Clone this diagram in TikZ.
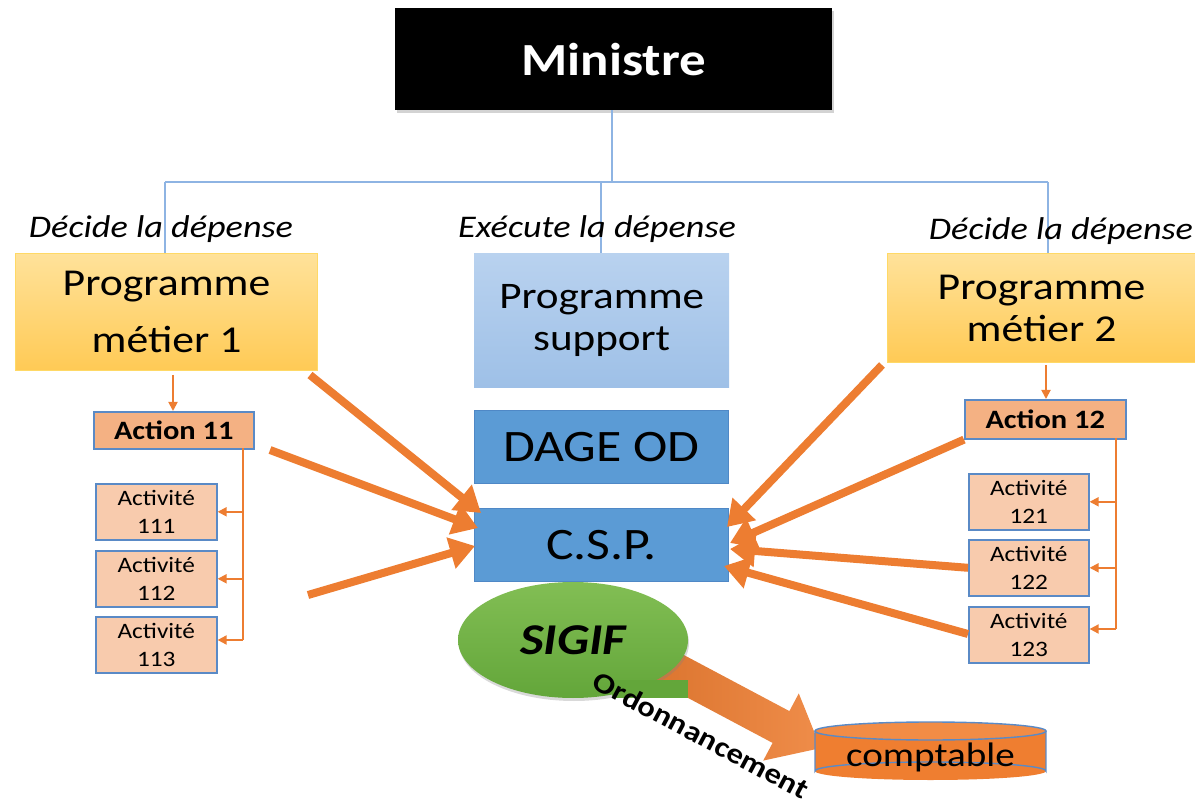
\documentclass[tikz,border=0pt]{standalone}
\usepackage{fontspec}
\setmainfont{Carlito}[FakeStretch=1.15]
\usetikzlibrary{arrows.meta,shadows,calc,shapes.geometric}

\definecolor{orgline}{HTML}{8EB4E3}
\definecolor{pmtop}{HTML}{FFE29A}
\definecolor{pmbot}{HTML}{FFCA55}
\definecolor{pmedge}{HTML}{FFD966}
\definecolor{suptop}{HTML}{B9D2EF}
\definecolor{supbot}{HTML}{9EC0E7}
\definecolor{midblue}{HTML}{5B9BD5}
\definecolor{midedge}{HTML}{4F88C6}
\definecolor{actfill}{HTML}{F4B183}
\definecolor{subfill}{HTML}{F8CBAD}
\definecolor{boxedge}{HTML}{5A8AC6}
\definecolor{flow}{HTML}{ED7D31}
\definecolor{gtop}{HTML}{82BE54}
\definecolor{gbot}{HTML}{63A63A}
\definecolor{cyl}{HTML}{EF7E30}
\definecolor{cyltop}{HTML}{F28C45}

\tikzset{
  tl/.style={anchor=north west, inner sep=0pt, align=center},
  ministrebox/.style={tl, fill=black, text=white,
    font=\fontsize{46}{50}\selectfont\bfseries,
    drop shadow={opacity=0.35, shadow xshift=2pt, shadow yshift=-3pt}},
  progbox/.style={tl, top color=pmtop, bottom color=pmbot, draw=pmedge, line width=1pt},
  supbox/.style={tl, top color=suptop, bottom color=supbot},
  midbox/.style={tl, fill=midblue, draw=midedge, line width=0.8pt},
  actbox/.style={tl, fill=actfill, draw=boxedge, line width=1.6pt,
    font=\fontsize{26.5}{26.5}\selectfont\bfseries},
  subbox/.style={tl, fill=subfill, draw=boxedge, line width=1.6pt,
    font=\fontsize{22}{28}\selectfont},
  lbl/.style={font=\fontsize{31.5}{31.5}\selectfont\itshape, inner sep=0pt},
  org/.style={draw=orgline, line width=1.8pt},
  thin/.style={draw=flow, line width=1.8pt, -{Triangle[length=9pt,width=9pt]}},
  thinline/.style={draw=flow, line width=1.8pt},
  bigarrow/.style={draw=flow, line width=8pt, -{Triangle[length=25pt,width=31pt]}},
}

\begin{document}
\begin{tikzpicture}[x=1pt, y=-1pt]
\useasboundingbox (0,0) rectangle (1195,802);

% ---- top of the hierarchy ----
\node[ministrebox, minimum width=437pt, minimum height=102pt] (min) at (395,8) {Ministre};

\coordinate (hub) at (612,182);
\coordinate (jl) at (165,182);
\coordinate (jm) at (601,182);
\coordinate (jr) at (1048,182);

% ---- programmes ----
\node[progbox, minimum width=302pt, minimum height=117pt,
      font=\fontsize{38}{57}\selectfont] (pm1) at (15,253) {Programme\\métier 1};
\node[supbox, minimum width=255pt, minimum height=134pt,
      font=\fontsize{37.5}{42}\selectfont] (sup) at (474,253) {Programme\\support};
\node[progbox, minimum width=308pt, minimum height=109pt,
      font=\fontsize{38}{42}\selectfont] (pm2) at (887,253) {Programme\\métier 2};

\draw[org] (min.south -| hub) -- (hub);
\draw[org] (jl) -- (jr);
\draw[org] (jl) -- (jl |- pm1.north);
\draw[org] (jm) -- (jm |- sup.north);
\draw[org] (jr) -- (jr |- pm2.north);

\node[lbl] (l1) at (161,229) {Décide la dépense};
\node[lbl] (l2) at (597,229) {Exécute la dépense};
\node[lbl] (l3) at (1061,231) {Décide la dépense};

% ---- central services ----
\node[midbox, minimum width=254pt, minimum height=73pt,
      font=\fontsize{45}{45}\selectfont] (dage) at (474,410) {DAGE OD};
\node[midbox, minimum width=254pt, minimum height=73pt,
      font=\fontsize{45}{45}\selectfont] (csp) at (474,508) {C.S.P.};

% ---- left branch ----
\node[actbox, minimum width=160pt, minimum height=37pt] (a11) at (93,411) {Action 11};
\node[subbox, minimum width=121pt, minimum height=56pt] (s111) at (95,483) {Activité\\111};
\node[subbox, minimum width=121pt, minimum height=56pt] (s112) at (95,550) {Activité\\112};
\node[subbox, minimum width=121pt, minimum height=56pt] (s113) at (95,616) {Activité\\113};

\coordinate (pm1out) at (173,375);
\draw[thin] (pm1out) -- (pm1out |- a11.north);
\coordinate (vl) at (243,448);
\coordinate (vlb) at (243,640);
\draw[thinline] (vl) -- (vlb);
\draw[thin] (vlb) -- (s113.east |- vlb);
\draw[thin] (vl |- s111.east) -- (s111.east);
\draw[thin] (vl |- s112.east) -- (s112.east);

% ---- right branch ----
\node[actbox, minimum width=161pt, minimum height=39pt] (a12) at (964,399) {Action 12};
\node[subbox, minimum width=120pt, minimum height=56pt] (s121) at (968,473) {Activité\\121};
\node[subbox, minimum width=120pt, minimum height=56pt] (s122) at (968,539) {Activité\\122};
\node[subbox, minimum width=120pt, minimum height=56pt] (s123) at (968,606) {Activité\\123};

\coordinate (pm2out) at (1046,365);
\draw[thin] (pm2out) -- (pm2out |- a12.north);
\coordinate (vr) at (1116,438);
\coordinate (vrb) at (1116,629);
\draw[thinline] (vr) -- (vrb);
\draw[thin] (vrb) -- (s123.east |- vrb);
\draw[thin] (vr |- s121.east) -- (s121.east);
\draw[thin] (vr |- s122.east) -- (s122.east);

% ---- flows into C.S.P. ----
\coordinate (f1) at (310,375);
\coordinate (f2) at (270,450);
\coordinate (f3) at (308,595);
\coordinate (f4) at (882,365);
\coordinate (f7) at (968,634);
\coordinate (c1) at (481,513);
\coordinate (c2) at (478,528);
\coordinate (c3) at (475,546);
\coordinate (c4) at (727,527);
\coordinate (c5) at (730,543);
\coordinate (c6) at (730,549);
\coordinate (c7) at (724,566);
\draw[bigarrow] (f1) -- (c1);
\draw[bigarrow] (f2) -- (c2);
\draw[bigarrow] (f3) -- (c3);
\draw[bigarrow] (f4) -- (c4);
\draw[bigarrow] (a12.south west) -- (c5);
\draw[bigarrow] (s122.west) -- (c6);
\draw[bigarrow] (f7) -- (c7);

% ---- payment flow: block arrow from SIGIF to the accountant ----
\shade[left color=flow!92!black, right color=flow!88!white]
  (656.9,640.7) -- (789.4,711.1) -- (798.8,693.4) -- (820.7,748.1)
  -- (763.2,760.6) -- (772.6,742.9) -- (640.1,672.5) -- cycle;

\node[ellipse, minimum width=230pt, minimum height=116pt, inner sep=0pt,
      top color=gtop, bottom color=gbot,
      drop shadow={opacity=0.3, shadow xshift=1pt, shadow yshift=-3pt},
      font=\fontsize{44}{44}\selectfont\bfseries\itshape] (sigif) at (573,640) {SIGIF};
\fill[gbot] (612,680) rectangle (688,698);

% storage cylinder
\fill[cyl] (815,731) rectangle (1046,771);
\fill[cyl] (930.5,771) ellipse [x radius=115.5, y radius=9];
\fill[cyltop] (930.5,731) ellipse [x radius=115.5, y radius=9];
\draw[boxedge, line width=1.4pt] (815,731) -- (815,771)
  arc[start angle=180, end angle=0, x radius=115.5, y radius=-9] -- (1046,731);
\draw[boxedge, line width=1.4pt] (930.5,731) ellipse [x radius=115.5, y radius=9];
\node[font=\fontsize{34}{34}\selectfont, inner sep=0pt] (cpt) at (930.5,757) {comptable};

\node[font=\fontsize{28.5}{28.5}\selectfont\bfseries, rotate=-28, inner sep=0pt] (ord) at (701,735) {Ordonnancement};
\end{tikzpicture}
\end{document}
